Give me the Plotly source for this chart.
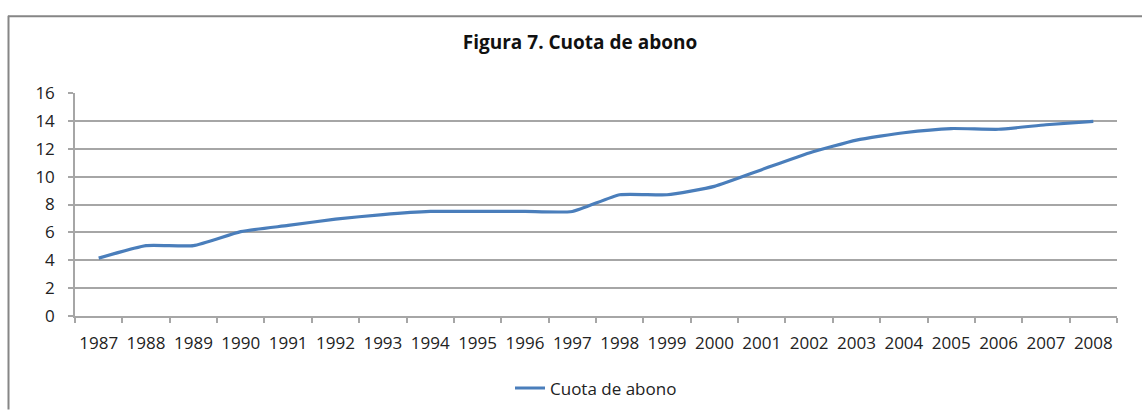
import plotly.graph_objects as go

# Figura 7 - cuota de abono por año
years = [str(y) for y in range(1987, 2009)]
cuota = [4.15, 5.05, 5.05, 6.05, 6.5, 6.95, 7.28, 7.5, 7.5, 7.5, 7.5,
         8.7, 8.7, 9.3, 10.5, 11.7, 12.62, 13.15, 13.45, 13.4, 13.72, 13.97]
y_ticks = [0, 2, 4, 6, 8, 10, 12, 14, 16]

W, H = 1142, 419
L, T = 75, 93
R, B = W - 1117, H - 327
pw, ph = W - L - R, H - T - B

def px(x):
    return (x - L) / pw

def py(y):
    return (H - B - y) / ph

FONT = "Open Sans"
GRID = "#a6a6a6"

fig = go.Figure()
fig.add_trace(go.Scatter(
    x=years, y=cuota, name="Cuota de abono", mode="lines",
    line=dict(color="#4a7ebb", width=3.2, shape="spline", smoothing=0.5),
))

fig.update_layout(
    width=W, height=H,
    margin=dict(l=L, r=R, t=T, b=B),
    paper_bgcolor="white", plot_bgcolor="white",
    font=dict(family=FONT, size=17, color="#222222"),
    title=dict(text="<b>Figura 7. Cuota de abono</b>", x=px(580), xref="paper",
               xanchor="center", y=1 - 42 / H, yanchor="middle",
               font=dict(family=FONT, size=19, color="#111111")),
    showlegend=True,
    legend=dict(orientation="h", x=0.5, xanchor="center", y=py(403),
                yanchor="middle", font=dict(size=17)),
    shapes=[
        dict(type="line", xref="paper", yref="paper", x0=px(8.5), x1=px(8.5),
             y0=py(12), y1=py(425), line=dict(color="#868686", width=2)),
        dict(type="line", xref="paper", yref="paper", x0=px(8), x1=px(1150),
             y0=py(12.5), y1=py(12.5), line=dict(color="#868686", width=2)),
    ],
)

fig.update_xaxes(type="category", range=[-0.5, len(years) - 0.5],
                 showgrid=False, showline=True, linecolor=GRID, linewidth=1.5,
                 ticks="outside", tickson="boundaries", ticklen=5,
                 tickcolor=GRID, tickwidth=1.5, ticklabelstandoff=11,
                 tickangle=0, automargin=False)
fig.update_yaxes(range=[0, 16], tickvals=y_ticks, showgrid=True,
                 gridcolor=GRID, gridwidth=1.5, zeroline=False,
                 showline=True, linecolor=GRID, linewidth=1.5,
                 ticks="outside", ticklen=5, tickcolor=GRID, tickwidth=1.5,
                 ticklabelstandoff=10, automargin=False)

# pin the figure to the window corner so the page is exactly the window size
pin = ("document.body.style.margin='0';"
       "document.body.style.overflow='hidden';"
       "var gd=document.getElementById('{plot_id}');"
       "gd.style.position='fixed';gd.style.left='0';gd.style.top='0';")

fig.write_html("out.html", post_script=pin, config={"displayModeBar": False})
